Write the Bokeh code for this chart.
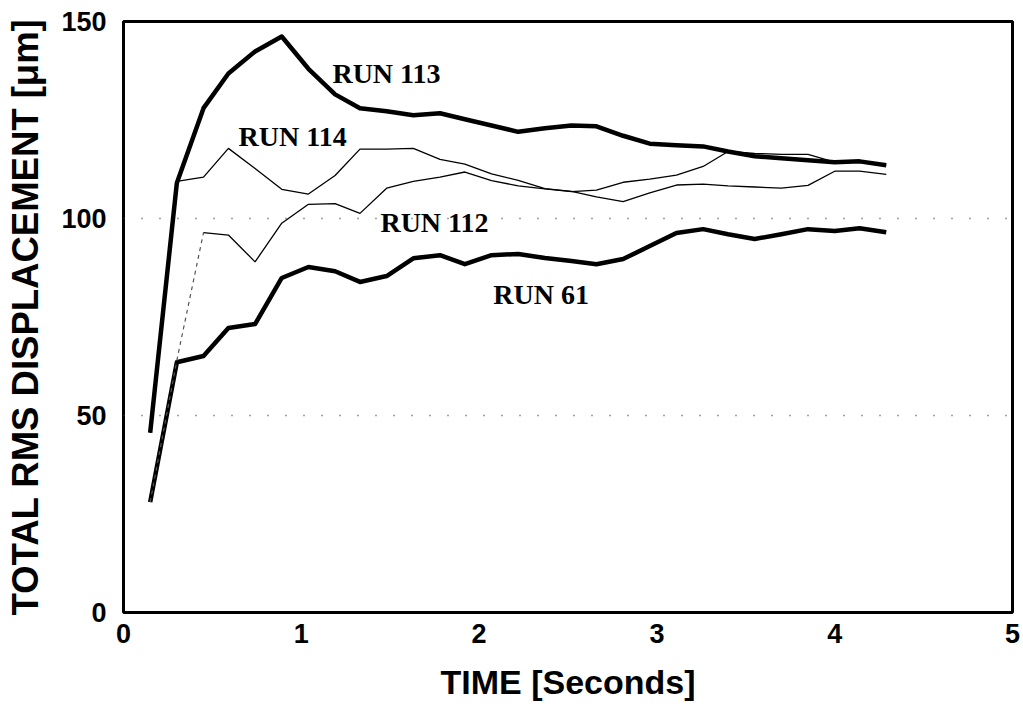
from bokeh.plotting import figure
from bokeh.models import FixedTicker, Label, Range1d
from bokeh.embed import file_html
from bokeh.resources import INLINE

# time samples [s]
times = [0.15, 0.30, 0.45, 0.59, 0.74, 0.89, 1.04, 1.19, 1.33, 1.48,
         1.63, 1.78, 1.92, 2.07, 2.22, 2.37, 2.52, 2.66, 2.81, 2.96,
         3.11, 3.26, 3.40, 3.55, 3.70, 3.85, 4.00, 4.14, 4.29]

# total RMS displacement [um]
run113 = [45.6, 109.0, 128.0, 136.8, 142.4, 146.2, 138.0, 131.5, 128.0, 127.2,
          126.2, 126.7, 125.2, 123.6, 122.0, 122.9, 123.6, 123.4, 121.0, 119.0,
          118.6, 118.3, 117.0, 115.8, 115.3, 114.8, 114.3, 114.5, 113.5]
run114 = [45.6, 109.4, 110.5, 117.8, 112.7, 107.4, 106.2, 110.9, 117.6, 117.6,
          117.8, 115.0, 113.8, 111.3, 109.7, 107.6, 106.9, 105.5, 104.3, 106.5,
          108.5, 108.7, 108.3, 108.0, 107.7, 108.4, 112.0, 112.0, 111.2]
run112 = [28.0, 64.0, 96.4, 95.8, 89.0, 98.8, 103.6, 103.8, 101.3, 107.7,
          109.4, 110.5, 111.8, 109.6, 108.3, 107.5, 106.8, 107.2, 109.2, 110.0,
          111.0, 113.2, 117.0, 116.5, 116.3, 116.3, 114.3, 114.5, 113.5]
run61 = [28.0, 63.5, 65.1, 72.2, 73.2, 84.9, 87.7, 86.6, 83.9, 85.4,
         89.9, 90.7, 88.4, 90.7, 91.0, 90.0, 89.2, 88.4, 89.7, 93.0,
         96.3, 97.3, 96.0, 94.8, 96.0, 97.3, 96.8, 97.5, 96.5]

x_ticks = [0, 1, 2, 3, 4, 5]
y_ticks = [0, 50, 100, 150]
grid_levels = [50, 100]

labels = ["RUN 113", "RUN 114", "RUN 112", "RUN 61"]
label_x = [1.175, 0.647, 1.445, 2.08]
label_y = [136.8, 120.8, 99.1, 80.6]

p = figure(width=1020, height=714, output_backend="svg", toolbar_location=None,
           x_range=Range1d(0, 5), y_range=Range1d(0, 150),
           min_border_left=123, min_border_right=8,
           min_border_top=21, min_border_bottom=102)
p.background_fill_color = "white"
p.border_fill_color = "white"
p.outline_line_color = "black"
p.outline_line_width = 3

# grid
p.xgrid.visible = False
p.ygrid.ticker = FixedTicker(ticks=grid_levels)
p.ygrid.grid_line_color = "#444444"
p.ygrid.grid_line_width = 1.5
p.ygrid.grid_line_dash = "1 17"

# axes
for ax in (p.xaxis[0], p.yaxis[0]):
    ax.axis_line_color = None
    ax.major_tick_line_color = None
    ax.minor_tick_line_color = None
    ax.major_label_text_font = "Liberation Sans"
    ax.major_label_text_font_style = "bold"
    ax.major_label_text_font_size = "27px"
    ax.major_label_text_color = "black"
    ax.axis_label_text_font = "Liberation Sans"
    ax.axis_label_text_font_style = "bold"
    ax.axis_label_text_color = "black"

p.xaxis.axis_label_text_font_size = "34px"
p.yaxis.axis_label_text_font_size = "36.5px"
p.xaxis.ticker = FixedTicker(ticks=x_ticks)
p.yaxis.ticker = FixedTicker(ticks=y_ticks)
p.xaxis.major_label_standoff = 5
p.yaxis.major_label_standoff = 11
p.xaxis.axis_label = "TIME [Seconds]"
p.yaxis.axis_label = "TOTAL RMS DISPLACEMENT [\u03bcm]"
p.xaxis.axis_label_standoff = 17
p.yaxis.axis_label_standoff = 12

# series
p.line(times, run61, line_color="black", line_width=4.5, line_join="round")
p.line(times, run113, line_color="black", line_width=4.5, line_join="round")
p.line(times, run114, line_color="black", line_width=1.3)
p.line(times[:3], run112[:3], line_color="#555555", line_width=1.2, line_dash="4 4")
p.line(times[2:], run112[2:], line_color="black", line_width=1.3)

for txt, lx, ly in zip(labels, label_x, label_y):
    p.add_layout(Label(x=lx, y=ly, text=txt, text_font="Liberation Serif",
                       text_font_style="bold", text_font_size="28px",
                       text_color="black", text_align="left",
                       text_baseline="alphabetic"))

open("out.html", "w").write(file_html(p, INLINE))
